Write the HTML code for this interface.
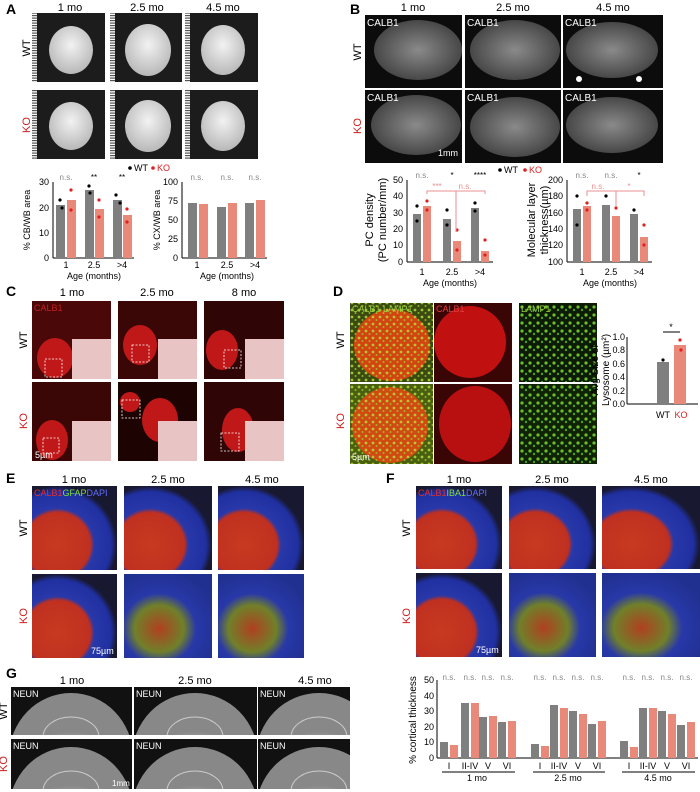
<!DOCTYPE html>
<html style="margin:0;overflow:hidden;width:700px;height:792px"><head><meta charset="utf-8"><style>
body{margin:0;background:#fff;overflow:hidden;width:700px;height:792px}
svg{display:block;font-family:"Liberation Sans",sans-serif}
</style></head><body>
<svg width="700" height="792" viewBox="0 0 700 792" xmlns="http://www.w3.org/2000/svg" overflow="hidden">
<defs>
<radialGradient id="brain" cx="50%" cy="40%" r="60%"><stop offset="0" stop-color="#f2f2f2"/><stop offset="1" stop-color="#b8b8b8"/></radialGradient>
<radialGradient id="cer" cx="50%" cy="50%" r="60%"><stop offset="0" stop-color="#8a8a8a"/><stop offset="1" stop-color="#3a3a3a"/></radialGradient>
<pattern id="ruler" width="5" height="2.5" patternUnits="userSpaceOnUse"><rect width="5" height="1.2" fill="#555"/></pattern>
<pattern id="grn" width="7" height="7" patternUnits="userSpaceOnUse"><circle cx="2" cy="2" r="1.4" fill="#b8e040"/><circle cx="5.5" cy="5" r="1" fill="#9ad030"/></pattern>
<pattern id="grn2" width="8" height="8" patternUnits="userSpaceOnUse"><circle cx="2" cy="3" r="1.6" fill="#6ac030"/><circle cx="6" cy="6" r="1.2" fill="#4aa020"/></pattern>
<radialGradient id="ef" cx="30%" cy="70%" r="70%"><stop offset="0" stop-color="#c83a20"/><stop offset="0.55" stop-color="#c03020"/><stop offset="0.62" stop-color="#2838a8"/><stop offset="0.9" stop-color="#2030a0"/><stop offset="1" stop-color="#181830"/></radialGradient>
<radialGradient id="efk" cx="40%" cy="65%" r="70%"><stop offset="0" stop-color="#b04020"/><stop offset="0.4" stop-color="#70802a"/><stop offset="0.6" stop-color="#2838a8"/><stop offset="1" stop-color="#203090"/></radialGradient>
<radialGradient id="gb" cx="50%" cy="90%" r="60%"><stop offset="0" stop-color="#6a6a6a"/><stop offset="0.6" stop-color="#8a8a8a"/><stop offset="0.9" stop-color="#a0a0a0"/><stop offset="1" stop-color="#888"/></radialGradient>
</defs>

<text x="6" y="14" font-size="14" font-weight="bold">A</text>
<g font-size="11" text-anchor="middle"><text x="70" y="11">1 mo</text><text x="147" y="11">2.5 mo</text><text x="223" y="11">4.5 mo</text></g>
<text transform="translate(30,48) rotate(-90)" font-size="11" text-anchor="middle">WT</text>
<text transform="translate(30,125) rotate(-90)" font-size="11" text-anchor="middle" fill="#d02020">KO</text>
<g>
<rect x="32" y="13" width="5" height="69" fill="url(#ruler)"/><rect x="37" y="13" width="68" height="69" fill="#1c1c1c"/>
<rect x="110" y="13" width="5" height="69" fill="url(#ruler)"/><rect x="115" y="13" width="67" height="69" fill="#1c1c1c"/>
<rect x="185" y="13" width="5" height="69" fill="url(#ruler)"/><rect x="190" y="13" width="68" height="69" fill="#1c1c1c"/>
<rect x="32" y="90" width="5" height="69" fill="url(#ruler)"/><rect x="37" y="90" width="68" height="69" fill="#1c1c1c"/>
<rect x="110" y="90" width="5" height="69" fill="url(#ruler)"/><rect x="115" y="90" width="67" height="69" fill="#1c1c1c"/>
<rect x="185" y="90" width="5" height="69" fill="url(#ruler)"/><rect x="190" y="90" width="68" height="69" fill="#1c1c1c"/>
<g fill="url(#brain)">
<ellipse cx="71" cy="50" rx="22" ry="24"/><ellipse cx="148" cy="50" rx="23" ry="26"/><ellipse cx="223" cy="50" rx="22" ry="25"/>
<ellipse cx="71" cy="126" rx="22" ry="24"/><ellipse cx="148" cy="126" rx="23" ry="26"/><ellipse cx="223" cy="126" rx="22" ry="25"/>
</g></g>
<circle cx="130" cy="168" r="1.8"/><text x="134" y="171" font-size="9">WT</text><circle cx="153" cy="168" r="1.8" fill="#e02020"/><text x="157" y="171" font-size="9" fill="#e02020">KO</text>
<g font-size="9">
<line x1="53" y1="182" x2="53" y2="258" stroke="#000"/><line x1="53" y1="258" x2="134" y2="258" stroke="#000"/>
<g text-anchor="end"><text x="49" y="185">30</text><text x="49" y="211">20</text><text x="49" y="236">10</text><text x="49" y="261">0</text></g>
<rect x="56" y="205" width="9" height="53" fill="#7f7f7f"/><rect x="67" y="200" width="9" height="58" fill="#e8897a"/>
<rect x="85" y="190" width="9" height="68" fill="#7f7f7f"/><rect x="95" y="209" width="9" height="49" fill="#e8897a"/>
<rect x="113" y="200" width="9" height="58" fill="#7f7f7f"/><rect x="123" y="215" width="9" height="43" fill="#e8897a"/>
<g fill="#000"><circle cx="60" cy="200" r="1.6"/><circle cx="62" cy="208" r="1.6"/><circle cx="89" cy="186" r="1.6"/><circle cx="90" cy="193" r="1.6"/><circle cx="116" cy="195" r="1.6"/><circle cx="120" cy="203" r="1.6"/></g>
<g fill="#e02020"><circle cx="71" cy="190" r="1.6"/><circle cx="71" cy="210" r="1.6"/><circle cx="99" cy="200" r="1.6"/><circle cx="99" cy="217" r="1.6"/><circle cx="127" cy="209" r="1.6"/><circle cx="127" cy="222" r="1.6"/></g>
<g text-anchor="middle"><text x="66" y="268">1</text><text x="94" y="268">2.5</text><text x="122" y="268">&gt;4</text><text x="94" y="279">Age (months)</text></g>
<text transform="translate(30,220) rotate(-90)" text-anchor="middle">% CB/WB area</text>
<g text-anchor="middle" font-size="8"><text x="66" y="180" fill="#888">n.s.</text><text x="94" y="180">**</text><text x="122" y="180">**</text></g>
<line x1="182" y1="182" x2="182" y2="258" stroke="#000"/><line x1="182" y1="258" x2="267" y2="258" stroke="#000"/>
<g text-anchor="end"><text x="178" y="185">100</text><text x="178" y="204">75</text><text x="178" y="223">50</text><text x="178" y="242">25</text><text x="178" y="261">0</text></g>
<rect x="188" y="203" width="9" height="55" fill="#7f7f7f"/><rect x="199" y="204" width="9" height="54" fill="#e8897a"/>
<rect x="217" y="207" width="9" height="51" fill="#7f7f7f"/><rect x="228" y="203" width="9" height="55" fill="#e8897a"/>
<rect x="245" y="203" width="9" height="55" fill="#7f7f7f"/><rect x="256" y="200" width="9" height="58" fill="#e8897a"/>
<g text-anchor="middle"><text x="197" y="268">1</text><text x="227" y="268">2.5</text><text x="255" y="268">&gt;4</text><text x="227" y="279">Age (months)</text></g>
<text transform="translate(160,220) rotate(-90)" text-anchor="middle">% CX/WB area</text>
<g text-anchor="middle" font-size="8" fill="#888"><text x="197" y="180">n.s.</text><text x="227" y="180">n.s.</text><text x="255" y="180">n.s.</text></g>
</g>

<text x="350" y="14" font-size="14" font-weight="bold">B</text>
<g font-size="11" text-anchor="middle"><text x="413" y="11">1 mo</text><text x="513" y="11">2.5 mo</text><text x="613" y="11">4.5 mo</text></g>
<text transform="translate(361,52) rotate(-90)" font-size="11" text-anchor="middle">WT</text>
<text transform="translate(361,126) rotate(-90)" font-size="11" text-anchor="middle" fill="#d02020">KO</text>
<g>
<rect x="365" y="15" width="97" height="73" fill="#0c0c0c"/><rect x="465" y="15" width="96" height="73" fill="#0c0c0c"/><rect x="563" y="15" width="100" height="73" fill="#0c0c0c"/>
<rect x="365" y="90" width="97" height="73" fill="#0c0c0c"/><rect x="465" y="90" width="96" height="73" fill="#0c0c0c"/><rect x="563" y="90" width="100" height="73" fill="#0c0c0c"/>
<g fill="url(#cer)"><ellipse cx="418" cy="50" rx="44" ry="30"/><ellipse cx="515" cy="50" rx="45" ry="30"/><ellipse cx="612" cy="50" rx="46" ry="28"/>
<ellipse cx="416" cy="125" rx="45" ry="30"/><ellipse cx="515" cy="127" rx="45" ry="30"/><ellipse cx="612" cy="125" rx="46" ry="28"/></g>
<g fill="#fff" font-size="10"><text x="367" y="26">CALB1</text><text x="467" y="26">CALB1</text><text x="565" y="26">CALB1</text><text x="367" y="101">CALB1</text><text x="467" y="101">CALB1</text><text x="565" y="101">CALB1</text><text x="438" y="156" font-size="9">1mm</text></g>
<circle cx="579" cy="79" r="3" fill="#fff"/><circle cx="639" cy="79" r="3" fill="#fff"/>
</g>
<circle cx="500" cy="170" r="1.8"/><text x="504" y="173" font-size="9">WT</text><circle cx="525" cy="170" r="1.8" fill="#e02020"/><text x="529" y="173" font-size="9" fill="#e02020">KO</text>
<g font-size="9">
<line x1="407" y1="180" x2="407" y2="262" stroke="#000"/><line x1="407" y1="262" x2="493" y2="262" stroke="#000"/>
<g text-anchor="end"><text x="403" y="183">50</text><text x="403" y="199">40</text><text x="403" y="216">30</text><text x="403" y="232">20</text><text x="403" y="248">10</text><text x="403" y="265">0</text></g>
<rect x="413" y="214" width="8" height="48" fill="#7f7f7f"/><rect x="423" y="206" width="8" height="56" fill="#e8897a"/>
<rect x="443" y="219" width="8" height="43" fill="#7f7f7f"/><rect x="453" y="241" width="8" height="21" fill="#e8897a"/>
<rect x="471" y="208" width="8" height="54" fill="#7f7f7f"/><rect x="481" y="251" width="8" height="11" fill="#e8897a"/>
<g fill="#000"><circle cx="417" cy="206" r="1.6"/><circle cx="417" cy="221" r="1.6"/><circle cx="447" cy="210" r="1.6"/><circle cx="447" cy="225" r="1.6"/><circle cx="475" cy="203" r="1.6"/><circle cx="475" cy="211" r="1.6"/></g>
<g fill="#e02020"><circle cx="427" cy="201" r="1.6"/><circle cx="427" cy="210" r="1.6"/><circle cx="457" cy="230" r="1.6"/><circle cx="457" cy="250" r="1.6"/><circle cx="485" cy="240" r="1.6"/><circle cx="485" cy="255" r="1.6"/></g>
<g text-anchor="middle"><text x="422" y="275">1</text><text x="452" y="275">2.5</text><text x="480" y="275">&gt;4</text><text x="450" y="286">Age (months)</text></g>
<text transform="translate(373,220) rotate(-90)" text-anchor="middle" font-size="11">PC density</text>
<text transform="translate(386,220) rotate(-90)" text-anchor="middle" font-size="11">(PC number/mm)</text>
<g text-anchor="middle" font-size="8"><text x="422" y="178" fill="#888">n.s.</text><text x="452" y="178">*</text><text x="480" y="178">****</text><text x="437" y="189" fill="#e89090">***</text><text x="465" y="189" fill="#e89090">n.s.</text></g>
<polyline points="427,194 427,191 485,191 485,194" fill="none" stroke="#e89090"/><line x1="456" y1="191" x2="456" y2="232" stroke="#e89090"/>
<line x1="567" y1="180" x2="567" y2="262" stroke="#000"/><line x1="567" y1="262" x2="652" y2="262" stroke="#000"/>
<g text-anchor="end"><text x="563" y="183">200</text><text x="563" y="199">180</text><text x="563" y="216">160</text><text x="563" y="232">140</text><text x="563" y="248">120</text><text x="563" y="265">100</text></g>
<rect x="573" y="209" width="8" height="53" fill="#7f7f7f"/><rect x="583" y="206" width="8" height="56" fill="#e8897a"/>
<rect x="602" y="205" width="8" height="57" fill="#7f7f7f"/><rect x="612" y="216" width="8" height="46" fill="#e8897a"/>
<rect x="630" y="214" width="8" height="48" fill="#7f7f7f"/><rect x="640" y="237" width="8" height="25" fill="#e8897a"/>
<g fill="#000"><circle cx="577" cy="196" r="1.6"/><circle cx="577" cy="225" r="1.6"/><circle cx="606" cy="196" r="1.6"/><circle cx="634" cy="210" r="1.6"/></g>
<g fill="#e02020"><circle cx="587" cy="203" r="1.6"/><circle cx="587" cy="210" r="1.6"/><circle cx="616" cy="208" r="1.6"/><circle cx="644" cy="225" r="1.6"/><circle cx="644" cy="245" r="1.6"/></g>
<g text-anchor="middle"><text x="582" y="275">1</text><text x="611" y="275">2.5</text><text x="639" y="275">&gt;4</text><text x="610" y="286">Age (months)</text></g>
<text transform="translate(535,220) rotate(-90)" text-anchor="middle" font-size="11">Molecular layer</text>
<text transform="translate(548,220) rotate(-90)" text-anchor="middle" font-size="11">thickness(µm)</text>
<g text-anchor="middle" font-size="8"><text x="582" y="178" fill="#888">n.s.</text><text x="611" y="178" fill="#888">n.s.</text><text x="639" y="178">*</text><text x="598" y="189" fill="#e89090">n.s.</text><text x="629" y="189" fill="#e89090">*</text></g>
<polyline points="587,196 587,191 644,191 644,196" fill="none" stroke="#e89090"/><line x1="616" y1="191" x2="616" y2="206" stroke="#e89090"/>
</g>

<text x="6" y="296" font-size="14" font-weight="bold">C</text>
<g font-size="11" text-anchor="middle"><text x="72" y="296">1 mo</text><text x="157" y="296">2.5 mo</text><text x="244" y="296">8 mo</text></g>
<text transform="translate(27,340) rotate(-90)" font-size="11" text-anchor="middle">WT</text>
<text transform="translate(27,421) rotate(-90)" font-size="11" text-anchor="middle" fill="#d02020">KO</text>
<g>
<rect x="32" y="301" width="79" height="78" fill="#4a0808"/><rect x="118" y="301" width="79" height="78" fill="#3a0606"/><rect x="204" y="301" width="80" height="78" fill="#300505"/>
<rect x="32" y="382" width="79" height="79" fill="#3a0606"/><rect x="118" y="382" width="79" height="79" fill="#1e0303"/><rect x="204" y="382" width="80" height="79" fill="#300505"/>
<g fill="#c01818"><ellipse cx="55" cy="358" rx="18" ry="20"/><ellipse cx="140" cy="345" rx="17" ry="20"/><ellipse cx="222" cy="350" rx="16" ry="20"/>
<ellipse cx="52" cy="440" rx="16" ry="20"/><ellipse cx="160" cy="420" rx="18" ry="22"/><ellipse cx="130" cy="402" rx="10" ry="10"/><ellipse cx="238" cy="430" rx="16" ry="22"/></g>
<g fill="#e8c4c4"><rect x="72" y="339" width="39" height="40"/><rect x="158" y="339" width="39" height="40"/><rect x="245" y="339" width="39" height="40"/>
<rect x="72" y="421" width="39" height="40"/><rect x="158" y="421" width="39" height="40"/><rect x="245" y="421" width="39" height="40"/></g>
<g fill="none" stroke="#fff" stroke-dasharray="2,1.5" stroke-width="0.8"><rect x="45" y="359" width="17" height="18"/><rect x="132" y="345" width="17" height="17"/><rect x="224" y="350" width="17" height="18"/><rect x="43" y="438" width="16" height="15"/><rect x="122" y="400" width="18" height="18"/><rect x="221" y="433" width="18" height="18"/></g>
<text x="34" y="311" font-size="9" fill="#c02020">CALB1</text><text x="35" y="458" font-size="9" fill="#fff">5µm</text>
</g>

<text x="333" y="296" font-size="14" font-weight="bold">D</text>
<text transform="translate(344,340) rotate(-90)" font-size="11" text-anchor="middle">WT</text>
<text transform="translate(344,421) rotate(-90)" font-size="11" text-anchor="middle" fill="#d02020">KO</text>
<g>
<rect x="350" y="303" width="83" height="79" fill="#3a4a10"/><ellipse cx="392" cy="345" rx="38" ry="36" fill="#d24410"/><rect x="350" y="303" width="83" height="79" fill="url(#grn)" opacity="0.8"/>
<rect x="350" y="384" width="83" height="80" fill="#4a6010"/><ellipse cx="390" cy="425" rx="38" ry="38" fill="#d04a12"/><rect x="350" y="384" width="83" height="80" fill="url(#grn)" opacity="0.8"/>
<rect x="434" y="303" width="78" height="79" fill="#3a0505"/><ellipse cx="470" cy="342" rx="36" ry="36" fill="#c01010"/>
<rect x="434" y="384" width="78" height="80" fill="#3a0505"/><ellipse cx="475" cy="424" rx="36" ry="38" fill="#b81010"/>
<rect x="519" y="303" width="78" height="79" fill="#0c1a06"/><rect x="519" y="303" width="78" height="79" fill="url(#grn2)"/>
<rect x="519" y="384" width="78" height="80" fill="#102206"/><rect x="519" y="384" width="78" height="80" fill="url(#grn2)"/>
<text x="352" y="312" font-size="9" fill="#9ad040">CALB1 LAMP1</text><text x="436" y="312" font-size="9" fill="#e04040">CALB1</text><text x="521" y="312" font-size="9" fill="#9ad040">LAMP1</text>
<text x="352" y="460" font-size="9" fill="#fff">5µm</text>
</g>
<g font-size="9">
<line x1="627" y1="337" x2="627" y2="404" stroke="#000"/><line x1="627" y1="404" x2="698" y2="404" stroke="#000"/>
<g text-anchor="end"><text x="625" y="340">1.0</text><text x="625" y="353">0.8</text><text x="625" y="367">0.6</text><text x="625" y="380">0.4</text><text x="625" y="394">0.2</text><text x="625" y="407">0.0</text></g>
<rect x="657" y="362" width="12" height="42" fill="#7f7f7f"/><rect x="674" y="345" width="12" height="59" fill="#e8897a"/>
<circle cx="663" cy="360" r="1.6"/><circle cx="680" cy="340" r="1.6" fill="#e02020"/><circle cx="681" cy="350" r="1.6" fill="#e02020"/>
<line x1="663" y1="332" x2="680" y2="332" stroke="#000"/><text x="671" y="330" text-anchor="middle">*</text>
<text x="663" y="418" text-anchor="middle">WT</text><text x="681" y="418" text-anchor="middle" fill="#e02020">KO</text>
<text transform="translate(598,370) rotate(-90)" text-anchor="middle" font-size="10">Avg Size of</text>
<text transform="translate(609,370) rotate(-90)" text-anchor="middle" font-size="10">Lysosome (µm²)</text>
</g>

<text x="6" y="483" font-size="14" font-weight="bold">E</text>
<g font-size="11" text-anchor="middle"><text x="74" y="483">1 mo</text><text x="168" y="483">2.5 mo</text><text x="262" y="483">4.5 mo</text></g>
<text transform="translate(27,528) rotate(-90)" font-size="11" text-anchor="middle">WT</text>
<text transform="translate(27,616) rotate(-90)" font-size="11" text-anchor="middle" fill="#d02020">KO</text>
<rect x="32" y="486" width="85" height="84" fill="url(#ef)"/><rect x="124" y="486" width="88" height="84" fill="url(#ef)"/><rect x="218" y="486" width="86" height="84" fill="url(#ef)"/>
<rect x="32" y="574" width="85" height="84" fill="url(#ef)"/><rect x="124" y="574" width="88" height="84" fill="url(#efk)"/><rect x="218" y="574" width="86" height="84" fill="url(#efk)"/>
<text x="34" y="496" font-size="9" fill="#e03030">CALB1<tspan fill="#80e040">GFAP</tspan><tspan fill="#6070ff">DAPI</tspan></text>
<text x="91" y="654" font-size="9" fill="#fff">75µm</text>

<text x="386" y="483" font-size="14" font-weight="bold">F</text>
<g font-size="11" text-anchor="middle"><text x="459" y="483">1 mo</text><text x="552" y="483">2.5 mo</text><text x="651" y="483">4.5 mo</text></g>
<text transform="translate(410,528) rotate(-90)" font-size="11" text-anchor="middle">WT</text>
<text transform="translate(410,616) rotate(-90)" font-size="11" text-anchor="middle" fill="#d02020">KO</text>
<rect x="416" y="486" width="86" height="83" fill="url(#ef)"/><rect x="509" y="486" width="87" height="83" fill="url(#ef)"/><rect x="602" y="486" width="98" height="83" fill="url(#ef)"/>
<rect x="416" y="573" width="86" height="84" fill="url(#ef)"/><rect x="509" y="573" width="87" height="84" fill="url(#efk)"/><rect x="602" y="573" width="98" height="84" fill="url(#efk)"/>
<text x="418" y="496" font-size="9" fill="#e03030">CALB1<tspan fill="#80e040">IBA1</tspan><tspan fill="#6070ff">DAPI</tspan></text>
<text x="476" y="653" font-size="9" fill="#fff">75µm</text>

<text x="6" y="678" font-size="14" font-weight="bold">G</text>
<g font-size="11" text-anchor="middle"><text x="72" y="684">1 mo</text><text x="195" y="684">2.5 mo</text><text x="315" y="684">4.5 mo</text></g>
<text transform="translate(7,711) rotate(-90)" font-size="11" text-anchor="middle">WT</text>
<text transform="translate(7,764) rotate(-90)" font-size="11" text-anchor="middle" fill="#d02020">KO</text>
<g>
<rect x="11" y="687" width="121" height="48" fill="#111"/><rect x="134" y="687" width="123" height="48" fill="#111"/><rect x="258" y="687" width="92" height="48" fill="#111"/>
<rect x="11" y="739" width="121" height="50" fill="#111"/><rect x="134" y="739" width="123" height="50" fill="#111"/><rect x="258" y="739" width="92" height="50" fill="#111"/>
<svg x="11" y="687" width="121" height="48"><ellipse cx="60" cy="70" rx="62" ry="64" fill="url(#gb)"/><ellipse cx="60" cy="50" rx="28" ry="20" fill="none" stroke="#ccc" stroke-width="1"/></svg>
<svg x="134" y="687" width="123" height="48"><ellipse cx="61" cy="70" rx="63" ry="64" fill="url(#gb)"/><ellipse cx="61" cy="50" rx="28" ry="20" fill="none" stroke="#ccc" stroke-width="1"/></svg>
<svg x="258" y="687" width="92" height="48"><ellipse cx="61" cy="70" rx="63" ry="64" fill="url(#gb)"/><ellipse cx="61" cy="50" rx="28" ry="20" fill="none" stroke="#ccc" stroke-width="1"/></svg>
<svg x="11" y="739" width="121" height="50"><ellipse cx="60" cy="72" rx="62" ry="64" fill="url(#gb)"/><ellipse cx="60" cy="52" rx="28" ry="20" fill="none" stroke="#ccc" stroke-width="1"/></svg>
<svg x="134" y="739" width="123" height="50"><ellipse cx="61" cy="72" rx="63" ry="64" fill="url(#gb)"/><ellipse cx="61" cy="52" rx="28" ry="20" fill="none" stroke="#ccc" stroke-width="1"/></svg>
<svg x="258" y="739" width="92" height="50"><ellipse cx="61" cy="72" rx="63" ry="64" fill="url(#gb)"/><ellipse cx="61" cy="52" rx="28" ry="20" fill="none" stroke="#ccc" stroke-width="1"/></svg>
<g fill="#fff" font-size="9"><text x="13" y="697">NEUN</text><text x="136" y="697">NEUN</text><text x="260" y="697">NEUN</text><text x="13" y="749">NEUN</text><text x="136" y="749">NEUN</text><text x="260" y="749">NEUN</text><text x="112" y="786" font-size="8">1mm</text></g>
</g>
<g font-size="9">
<line x1="437" y1="680" x2="437" y2="758" stroke="#000"/><line x1="437" y1="758" x2="698" y2="758" stroke="#000"/>
<g text-anchor="end"><text x="434" y="683">50</text><text x="434" y="699">40</text><text x="434" y="714">30</text><text x="434" y="730">20</text><text x="434" y="745">10</text><text x="434" y="761">0</text></g>
<text transform="translate(416,720) rotate(-90)" text-anchor="middle" font-size="10">% cortical thickness</text>
<g fill="#7f7f7f">
<rect x="440" y="742" width="8" height="16"/><rect x="461" y="703" width="8" height="55"/><rect x="479" y="717" width="8" height="41"/><rect x="498" y="722" width="8" height="36"/>
<rect x="531" y="744" width="8" height="14"/><rect x="550" y="705" width="8" height="53"/><rect x="569" y="711" width="8" height="47"/><rect x="588" y="724" width="8" height="34"/>
<rect x="620" y="741" width="8" height="17"/><rect x="639" y="708" width="8" height="50"/><rect x="658" y="711" width="8" height="47"/><rect x="677" y="725" width="8" height="33"/>
</g>
<g fill="#e8897a">
<rect x="450" y="745" width="8" height="13"/><rect x="471" y="703" width="8" height="55"/><rect x="489" y="716" width="8" height="42"/><rect x="508" y="721" width="8" height="37"/>
<rect x="541" y="746" width="8" height="12"/><rect x="560" y="708" width="8" height="50"/><rect x="579" y="714" width="8" height="44"/><rect x="598" y="721" width="8" height="37"/>
<rect x="630" y="747" width="8" height="11"/><rect x="649" y="708" width="8" height="50"/><rect x="668" y="714" width="8" height="44"/><rect x="687" y="722" width="8" height="36"/>
</g>
<g text-anchor="middle">
<text x="449" y="769">I</text><text x="470" y="769">II-IV</text><text x="488" y="769">V</text><text x="507" y="769">VI</text>
<text x="540" y="769">I</text><text x="559" y="769">II-IV</text><text x="578" y="769">V</text><text x="597" y="769">VI</text>
<text x="629" y="769">I</text><text x="648" y="769">II-IV</text><text x="667" y="769">V</text><text x="686" y="769">VI</text>
<text x="477" y="781">1 mo</text><text x="568" y="781">2.5 mo</text><text x="658" y="781">4.5 mo</text>
</g>
<g stroke="#000"><line x1="442" y1="772" x2="515" y2="772"/><line x1="533" y1="772" x2="605" y2="772"/><line x1="622" y1="772" x2="695" y2="772"/></g>
<g text-anchor="middle" font-size="8" fill="#888">
<text x="449" y="680">n.s.</text><text x="470" y="680">n.s.</text><text x="488" y="680">n.s.</text><text x="507" y="680">n.s.</text>
<text x="540" y="680">n.s.</text><text x="559" y="680">n.s.</text><text x="578" y="680">n.s.</text><text x="597" y="680">n.s.</text>
<text x="629" y="680">n.s.</text><text x="648" y="680">n.s.</text><text x="667" y="680">n.s.</text><text x="686" y="680">n.s.</text>
</g>
</g>
</svg>
</body></html>
